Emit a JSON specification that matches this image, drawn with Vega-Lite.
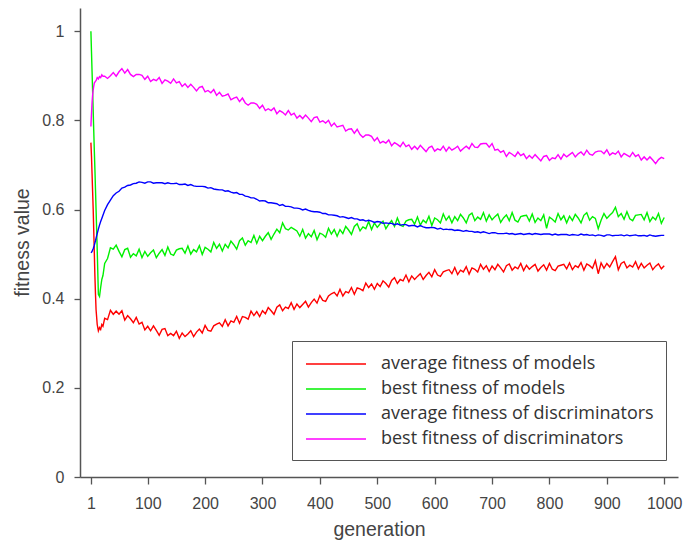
{
  "$schema": "https://vega.github.io/schema/vega-lite/v6.json",
  "autosize": {"type": "none"},
  "padding": {"left": 80, "top": 8, "right": 7, "bottom": 66},
  "width": 598,
  "height": 469,
  "background": "white",
  "config": {
    "view": {"stroke": null},
    "axis": {"grid": false, "domainColor": "#555555", "domainWidth": 1.5, "tickColor": "#555555", "tickWidth": 1.3, "labelFont": "Liberation Sans", "labelFontSize": 16, "labelColor": "#444444", "titleFont": "Liberation Sans", "titleFontSize": 19.5, "titleFontWeight": "normal", "titleColor": "#444444"}
  },
  "data": {"values": [
    {"g":1,"r":0.75,"n":1.0,"b":0.503,"m":0.786},
    {"g":2,"r":0.72,"n":0.955,"b":0.504,"m":0.815},
    {"g":3,"r":0.68,"n":0.91,"b":0.506,"m":0.84},
    {"g":4,"r":0.64,"n":0.865,"b":0.509,"m":0.857},
    {"g":5,"r":0.60,"n":0.82,"b":0.512,"m":0.868},
    {"g":6,"r":0.55,"n":0.775,"b":0.516,"m":0.877},
    {"g":7,"r":0.50,"n":0.73,"b":0.52,"m":0.884},
    {"g":8,"r":0.45,"n":0.69,"b":0.525,"m":0.886},
    {"g":9,"r":0.41,"n":0.645,"b":0.53,"m":0.888},
    {"g":10,"r":0.375,"n":0.60,"b":0.536,"m":0.889},
    {"g":12,"r":0.342,"n":0.51,"b":0.546,"m":0.896},
    {"g":14,"r":0.328,"n":0.41,"b":0.556,"m":0.893},
    {"g":16,"r":0.335,"n":0.405,"b":0.565,"m":0.898},
    {"g":18,"r":0.331,"n":0.425,"b":0.573,"m":0.896},
    {"g":20,"r":0.342,"n":0.443,"b":0.58,"m":0.902},
    {"g":22,"r":0.338,"n":0.452,"b":0.587,"m":0.899},
    {"g":25,"r":0.356,"n":0.479,"b":0.598,"m":0.899},
    {"g":30,"r":0.353,"n":0.490,"b":0.611,"m":0.894},
    {"g":35,"r":0.374,"n":0.514,"b":0.621,"m":0.900},
    {"g":40,"r":0.365,"n":0.511,"b":0.631,"m":0.907},
    {"g":45,"r":0.372,"n":0.520,"b":0.637,"m":0.899},
    {"g":50,"r":0.365,"n":0.506,"b":0.641,"m":0.909},
    {"g":55,"r":0.373,"n":0.494,"b":0.648,"m":0.916},
    {"g":60,"r":0.352,"n":0.510,"b":0.650,"m":0.906},
    {"g":65,"r":0.362,"n":0.513,"b":0.654,"m":0.914},
    {"g":70,"r":0.355,"n":0.493,"b":0.655,"m":0.903},
    {"g":75,"r":0.346,"n":0.501,"b":0.658,"m":0.898},
    {"g":80,"r":0.358,"n":0.496,"b":0.659,"m":0.903},
    {"g":85,"r":0.343,"n":0.511,"b":0.662,"m":0.903},
    {"g":90,"r":0.347,"n":0.492,"b":0.661,"m":0.901},
    {"g":95,"r":0.330,"n":0.506,"b":0.659,"m":0.892},
    {"g":100,"r":0.338,"n":0.495,"b":0.662,"m":0.899},
    {"g":105,"r":0.328,"n":0.503,"b":0.662,"m":0.887},
    {"g":110,"r":0.339,"n":0.509,"b":0.659,"m":0.892},
    {"g":115,"r":0.329,"n":0.492,"b":0.660,"m":0.889},
    {"g":120,"r":0.318,"n":0.502,"b":0.660,"m":0.896},
    {"g":125,"r":0.331,"n":0.510,"b":0.660,"m":0.883},
    {"g":130,"r":0.333,"n":0.497,"b":0.658,"m":0.891},
    {"g":135,"r":0.317,"n":0.516,"b":0.660,"m":0.888},
    {"g":140,"r":0.322,"n":0.500,"b":0.658,"m":0.883},
    {"g":145,"r":0.317,"n":0.497,"b":0.658,"m":0.893},
    {"g":150,"r":0.327,"n":0.509,"b":0.659,"m":0.884},
    {"g":155,"r":0.311,"n":0.512,"b":0.656,"m":0.887},
    {"g":160,"r":0.323,"n":0.513,"b":0.656,"m":0.876},
    {"g":165,"r":0.315,"n":0.502,"b":0.657,"m":0.882},
    {"g":170,"r":0.321,"n":0.518,"b":0.654,"m":0.874},
    {"g":175,"r":0.328,"n":0.500,"b":0.656,"m":0.881},
    {"g":180,"r":0.315,"n":0.510,"b":0.653,"m":0.874},
    {"g":185,"r":0.325,"n":0.505,"b":0.652,"m":0.866},
    {"g":190,"r":0.332,"n":0.519,"b":0.652,"m":0.874},
    {"g":195,"r":0.323,"n":0.499,"b":0.652,"m":0.876},
    {"g":200,"r":0.340,"n":0.515,"b":0.651,"m":0.864},
    {"g":205,"r":0.329,"n":0.511,"b":0.648,"m":0.867},
    {"g":210,"r":0.327,"n":0.505,"b":0.649,"m":0.862},
    {"g":215,"r":0.339,"n":0.526,"b":0.646,"m":0.869},
    {"g":220,"r":0.343,"n":0.513,"b":0.645,"m":0.856},
    {"g":225,"r":0.346,"n":0.522,"b":0.644,"m":0.863},
    {"g":230,"r":0.338,"n":0.507,"b":0.644,"m":0.854},
    {"g":235,"r":0.353,"n":0.522,"b":0.641,"m":0.856},
    {"g":240,"r":0.339,"n":0.514,"b":0.642,"m":0.859},
    {"g":245,"r":0.350,"n":0.529,"b":0.639,"m":0.846},
    {"g":250,"r":0.347,"n":0.521,"b":0.637,"m":0.850},
    {"g":255,"r":0.360,"n":0.511,"b":0.638,"m":0.852},
    {"g":260,"r":0.345,"n":0.530,"b":0.634,"m":0.842},
    {"g":265,"r":0.360,"n":0.536,"b":0.634,"m":0.850},
    {"g":270,"r":0.358,"n":0.520,"b":0.630,"m":0.839},
    {"g":275,"r":0.354,"n":0.530,"b":0.629,"m":0.834},
    {"g":280,"r":0.372,"n":0.526,"b":0.626,"m":0.839},
    {"g":285,"r":0.362,"n":0.542,"b":0.626,"m":0.839},
    {"g":290,"r":0.371,"n":0.524,"b":0.623,"m":0.836},
    {"g":295,"r":0.360,"n":0.540,"b":0.619,"m":0.827},
    {"g":300,"r":0.373,"n":0.530,"b":0.620,"m":0.834},
    {"g":305,"r":0.366,"n":0.540,"b":0.619,"m":0.822},
    {"g":310,"r":0.380,"n":0.548,"b":0.615,"m":0.826},
    {"g":315,"r":0.373,"n":0.533,"b":0.615,"m":0.822},
    {"g":320,"r":0.365,"n":0.545,"b":0.614,"m":0.828},
    {"g":325,"r":0.381,"n":0.556,"b":0.613,"m":0.815},
    {"g":330,"r":0.386,"n":0.548,"b":0.609,"m":0.822},
    {"g":335,"r":0.373,"n":0.570,"b":0.611,"m":0.818},
    {"g":340,"r":0.381,"n":0.557,"b":0.607,"m":0.812},
    {"g":345,"r":0.378,"n":0.554,"b":0.607,"m":0.822},
    {"g":350,"r":0.391,"n":0.560,"b":0.606,"m":0.812},
    {"g":355,"r":0.376,"n":0.556,"b":0.603,"m":0.816},
    {"g":360,"r":0.388,"n":0.552,"b":0.603,"m":0.805},
    {"g":365,"r":0.380,"n":0.540,"b":0.602,"m":0.811},
    {"g":370,"r":0.387,"n":0.555,"b":0.599,"m":0.804},
    {"g":375,"r":0.394,"n":0.536,"b":0.601,"m":0.812},
    {"g":380,"r":0.381,"n":0.546,"b":0.598,"m":0.805},
    {"g":385,"r":0.391,"n":0.539,"b":0.596,"m":0.797},
    {"g":390,"r":0.399,"n":0.553,"b":0.595,"m":0.806},
    {"g":395,"r":0.390,"n":0.532,"b":0.595,"m":0.808},
    {"g":400,"r":0.407,"n":0.547,"b":0.594,"m":0.796},
    {"g":405,"r":0.396,"n":0.544,"b":0.591,"m":0.799},
    {"g":410,"r":0.394,"n":0.538,"b":0.591,"m":0.794},
    {"g":415,"r":0.406,"n":0.558,"b":0.588,"m":0.800},
    {"g":420,"r":0.411,"n":0.545,"b":0.588,"m":0.787},
    {"g":425,"r":0.414,"n":0.555,"b":0.587,"m":0.794},
    {"g":430,"r":0.406,"n":0.540,"b":0.586,"m":0.785},
    {"g":435,"r":0.421,"n":0.555,"b":0.583,"m":0.787},
    {"g":440,"r":0.406,"n":0.546,"b":0.584,"m":0.789},
    {"g":445,"r":0.416,"n":0.562,"b":0.582,"m":0.776},
    {"g":450,"r":0.413,"n":0.554,"b":0.580,"m":0.780},
    {"g":455,"r":0.425,"n":0.544,"b":0.582,"m":0.781},
    {"g":460,"r":0.410,"n":0.562,"b":0.579,"m":0.771},
    {"g":465,"r":0.424,"n":0.568,"b":0.579,"m":0.780},
    {"g":470,"r":0.422,"n":0.552,"b":0.576,"m":0.768},
    {"g":475,"r":0.418,"n":0.561,"b":0.577,"m":0.762},
    {"g":480,"r":0.435,"n":0.557,"b":0.574,"m":0.767},
    {"g":485,"r":0.425,"n":0.573,"b":0.576,"m":0.767},
    {"g":490,"r":0.433,"n":0.555,"b":0.574,"m":0.764},
    {"g":495,"r":0.421,"n":0.570,"b":0.571,"m":0.754},
    {"g":500,"r":0.434,"n":0.560,"b":0.573,"m":0.761},
    {"g":505,"r":0.427,"n":0.568,"b":0.572,"m":0.749},
    {"g":510,"r":0.440,"n":0.574,"b":0.569,"m":0.753},
    {"g":515,"r":0.434,"n":0.557,"b":0.570,"m":0.749},
    {"g":520,"r":0.426,"n":0.567,"b":0.569,"m":0.756},
    {"g":525,"r":0.441,"n":0.575,"b":0.569,"m":0.743},
    {"g":530,"r":0.447,"n":0.562,"b":0.566,"m":0.750},
    {"g":535,"r":0.434,"n":0.581,"b":0.568,"m":0.746},
    {"g":540,"r":0.443,"n":0.565,"b":0.565,"m":0.741},
    {"g":545,"r":0.440,"n":0.562,"b":0.566,"m":0.751},
    {"g":550,"r":0.453,"n":0.574,"b":0.566,"m":0.741},
    {"g":555,"r":0.438,"n":0.577,"b":0.563,"m":0.745},
    {"g":560,"r":0.451,"n":0.578,"b":0.564,"m":0.735},
    {"g":565,"r":0.443,"n":0.567,"b":0.564,"m":0.742},
    {"g":570,"r":0.450,"n":0.583,"b":0.561,"m":0.735},
    {"g":575,"r":0.456,"n":0.565,"b":0.564,"m":0.744},
    {"g":580,"r":0.443,"n":0.576,"b":0.561,"m":0.737},
    {"g":585,"r":0.452,"n":0.570,"b":0.559,"m":0.730},
    {"g":590,"r":0.459,"n":0.585,"b":0.559,"m":0.739},
    {"g":595,"r":0.449,"n":0.564,"b":0.560,"m":0.742},
    {"g":600,"r":0.465,"n":0.581,"b":0.559,"m":0.731},
    {"g":605,"r":0.453,"n":0.577,"b":0.556,"m":0.736},
    {"g":610,"r":0.450,"n":0.570,"b":0.558,"m":0.733},
    {"g":615,"r":0.460,"n":0.590,"b":0.555,"m":0.742},
    {"g":620,"r":0.463,"n":0.576,"b":0.556,"m":0.731},
    {"g":625,"r":0.465,"n":0.585,"b":0.555,"m":0.740},
    {"g":630,"r":0.456,"n":0.570,"b":0.555,"m":0.733},
    {"g":635,"r":0.470,"n":0.584,"b":0.553,"m":0.737},
    {"g":640,"r":0.454,"n":0.575,"b":0.554,"m":0.742},
    {"g":645,"r":0.464,"n":0.589,"b":0.553,"m":0.731},
    {"g":650,"r":0.460,"n":0.581,"b":0.551,"m":0.737},
    {"g":655,"r":0.472,"n":0.570,"b":0.553,"m":0.742},
    {"g":660,"r":0.455,"n":0.587,"b":0.551,"m":0.736},
    {"g":665,"r":0.469,"n":0.592,"b":0.551,"m":0.748},
    {"g":670,"r":0.466,"n":0.575,"b":0.549,"m":0.740},
    {"g":675,"r":0.460,"n":0.583,"b":0.550,"m":0.739},
    {"g":680,"r":0.477,"n":0.578,"b":0.548,"m":0.747},
    {"g":685,"r":0.466,"n":0.593,"b":0.550,"m":0.748},
    {"g":690,"r":0.474,"n":0.574,"b":0.548,"m":0.748},
    {"g":695,"r":0.461,"n":0.588,"b":0.546,"m":0.740},
    {"g":700,"r":0.473,"n":0.577,"b":0.548,"m":0.748},
    {"g":705,"r":0.465,"n":0.584,"b":0.548,"m":0.733},
    {"g":710,"r":0.477,"n":0.590,"b":0.546,"m":0.735},
    {"g":715,"r":0.469,"n":0.571,"b":0.546,"m":0.728},
    {"g":720,"r":0.460,"n":0.581,"b":0.546,"m":0.732},
    {"g":725,"r":0.474,"n":0.588,"b":0.547,"m":0.719},
    {"g":730,"r":0.478,"n":0.575,"b":0.545,"m":0.728},
    {"g":735,"r":0.464,"n":0.593,"b":0.546,"m":0.724},
    {"g":740,"r":0.471,"n":0.576,"b":0.544,"m":0.719},
    {"g":745,"r":0.467,"n":0.572,"b":0.545,"m":0.729},
    {"g":750,"r":0.479,"n":0.584,"b":0.546,"m":0.721},
    {"g":755,"r":0.463,"n":0.586,"b":0.544,"m":0.725},
    {"g":760,"r":0.475,"n":0.587,"b":0.545,"m":0.714},
    {"g":765,"r":0.466,"n":0.574,"b":0.546,"m":0.721},
    {"g":770,"r":0.472,"n":0.590,"b":0.544,"m":0.715},
    {"g":775,"r":0.477,"n":0.571,"b":0.546,"m":0.723},
    {"g":780,"r":0.462,"n":0.581,"b":0.545,"m":0.716},
    {"g":785,"r":0.470,"n":0.575,"b":0.544,"m":0.709},
    {"g":790,"r":0.476,"n":0.588,"b":0.545,"m":0.719},
    {"g":795,"r":0.464,"n":0.558,"b":0.545,"m":0.721},
    {"g":800,"r":0.479,"n":0.583,"b":0.545,"m":0.710},
    {"g":805,"r":0.466,"n":0.578,"b":0.543,"m":0.716},
    {"g":810,"r":0.463,"n":0.572,"b":0.545,"m":0.714},
    {"g":815,"r":0.473,"n":0.591,"b":0.543,"m":0.723},
    {"g":820,"r":0.475,"n":0.577,"b":0.544,"m":0.713},
    {"g":825,"r":0.477,"n":0.586,"b":0.544,"m":0.724},
    {"g":830,"r":0.467,"n":0.570,"b":0.544,"m":0.718},
    {"g":835,"r":0.480,"n":0.585,"b":0.542,"m":0.723},
    {"g":840,"r":0.465,"n":0.575,"b":0.544,"m":0.728},
    {"g":845,"r":0.474,"n":0.589,"b":0.543,"m":0.718},
    {"g":850,"r":0.470,"n":0.581,"b":0.542,"m":0.725},
    {"g":855,"r":0.481,"n":0.570,"b":0.545,"m":0.729},
    {"g":860,"r":0.464,"n":0.587,"b":0.543,"m":0.722},
    {"g":865,"r":0.478,"n":0.593,"b":0.544,"m":0.733},
    {"g":870,"r":0.474,"n":0.576,"b":0.542,"m":0.724},
    {"g":875,"r":0.468,"n":0.584,"b":0.543,"m":0.722},
    {"g":880,"r":0.485,"n":0.580,"b":0.541,"m":0.729},
    {"g":885,"r":0.456,"n":0.557,"b":0.543,"m":0.731},
    {"g":890,"r":0.480,"n":0.576,"b":0.542,"m":0.731},
    {"g":895,"r":0.468,"n":0.591,"b":0.540,"m":0.725},
    {"g":900,"r":0.479,"n":0.580,"b":0.543,"m":0.734},
    {"g":905,"r":0.471,"n":0.587,"b":0.543,"m":0.722},
    {"g":910,"r":0.483,"n":0.593,"b":0.541,"m":0.727},
    {"g":915,"r":0.494,"n":0.605,"b":0.542,"m":0.724},
    {"g":920,"r":0.465,"n":0.584,"b":0.542,"m":0.731},
    {"g":925,"r":0.479,"n":0.591,"b":0.543,"m":0.718},
    {"g":930,"r":0.483,"n":0.578,"b":0.541,"m":0.726},
    {"g":935,"r":0.469,"n":0.595,"b":0.543,"m":0.722},
    {"g":940,"r":0.475,"n":0.579,"b":0.541,"m":0.718},
    {"g":945,"r":0.471,"n":0.575,"b":0.542,"m":0.728},
    {"g":950,"r":0.483,"n":0.587,"b":0.543,"m":0.719},
    {"g":955,"r":0.467,"n":0.588,"b":0.541,"m":0.723},
    {"g":960,"r":0.479,"n":0.589,"b":0.541,"m":0.711},
    {"g":965,"r":0.469,"n":0.577,"b":0.542,"m":0.718},
    {"g":970,"r":0.475,"n":0.593,"b":0.540,"m":0.711},
    {"g":975,"r":0.480,"n":0.573,"b":0.543,"m":0.718},
    {"g":980,"r":0.465,"n":0.583,"b":0.541,"m":0.711},
    {"g":985,"r":0.473,"n":0.577,"b":0.540,"m":0.703},
    {"g":990,"r":0.478,"n":0.591,"b":0.541,"m":0.712},
    {"g":995,"r":0.467,"n":0.569,"b":0.542,"m":0.717},
    {"g":1000,"r":0.474,"n":0.582,"b":0.542,"m":0.714}
  ]},
  "transform": [{"fold": ["r", "n", "b", "m"], "as": ["series", "value"]}],
  "mark": {"type": "line", "strokeWidth": 1.4, "clip": true},
  "encoding": {
    "x": {"field": "g", "type": "quantitative",
      "scale": {"domain": [-18, 1024], "nice": false, "zero": false},
      "axis": {"values": [1,100,200,300,400,500,600,700,800,900,1000], "format": "d", "title": "generation", "tickSize": 7, "labelPadding": 11, "titleY": 58, "titleBaseline": "alphabetic"}},
    "y": {"field": "value", "type": "quantitative",
      "scale": {"domain": [0, 1.052], "nice": false},
      "axis": {"values": [0,0.2,0.4,0.6,0.8,1], "format": "~g", "title": "fitness value", "tickSize": 6, "labelPadding": 10, "titleX": -52, "titleY": 234, "titleBaseline": "alphabetic", "titleAlign": "center", "titleAngle": -90}},
    "color": {"field": "series", "type": "nominal", "sort": ["r", "n", "b", "m"],
      "scale": {"domain": ["r", "n", "b", "m"], "range": ["#ff0000", "#00f000", "#0000ff", "#ff00ff"]},
      "legend": {"title": null, "orient": "none", "legendX": 212, "legendY": 333, "strokeColor": "#555555", "fillColor": "white", "padding": 12, "symbolType": "M-3,0H3", "symbolSize": 400, "symbolOffset": 21, "symbolStrokeWidth": 1.5, "labelFont": "Open Sans", "labelFontSize": 18, "labelColor": "#333333", "labelOffset": 34, "rowPadding": 5, "labelLimit": 400,
        "labelExpr": "datum.label == 'r' ? 'average fitness of models' : datum.label == 'n' ? 'best fitness of models' : datum.label == 'b' ? 'average fitness of discriminators' : 'best fitness of discriminators'"}},
    "order": {"field": "g", "type": "quantitative"}
  }
}
